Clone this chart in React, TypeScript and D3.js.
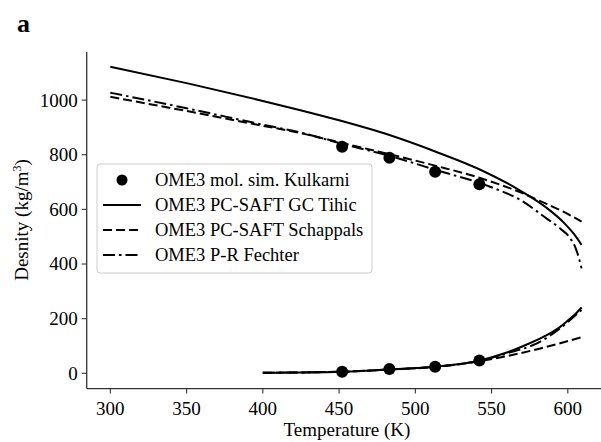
import React from "react";
import * as d3 from "d3";

// Temperature grid (K) and densities (kg/m³) for each model branch
const tihicLiqT = [300, 350, 400, 424, 450, 483, 513, 543, 569, 586, 598, 604, 609];
const tihicLiqRho = [1122, 1062, 997, 964, 926, 872, 812, 744, 668, 606, 548, 510, 470];
const tihicVapT = [400, 425, 453, 483, 513, 543, 560, 575, 582, 590, 595, 600, 605, 609];
const tihicVapRho = [2, 3, 6, 14, 24, 48, 76, 110, 128, 152, 170, 193, 217, 241];

const schappalsLiqT = [300, 350, 400, 424, 452, 483, 513, 543, 569, 586, 598, 609];
const schappalsLiqRho = [1012, 960, 906, 880, 843, 802, 760, 714, 662, 620, 589, 555];
const schappalsVapT = [400, 453, 483, 513, 543, 560, 582, 595, 609];
const schappalsVapRho = [2, 6, 14, 23, 45, 63, 91, 110, 132];

const fechterLiqT = [300, 350, 400, 424, 452, 483, 513, 549, 569, 586, 595, 601.6, 605, 607, 609];
const fechterLiqRho = [1027, 970, 910, 882, 840, 796, 745, 683, 634, 567, 530, 494, 460, 427, 384];
const fechterVapT = [400, 453, 483, 513, 543, 560, 582, 595, 609];
const fechterVapRho = [2, 6, 14, 24, 47, 73, 116, 165, 232];

// Molecular simulation points (liquid and vapour)
const kulkarniT = [452, 483, 513, 542];
const kulkarniLiq = [829, 789, 738, 692];
const kulkarniVap = [6, 16, 24, 47];

const xTicks = [300, 350, 400, 450, 500, 550, 600];
const yTicks = [0, 200, 400, 600, 800, 1000];

const legendLabels = [
  "OME3 mol. sim. Kulkarni",
  "OME3 PC-SAFT GC Tihic",
  "OME3 PC-SAFT Schappals",
  "OME3 P-R Fechter",
];

const W = 601;
const H = 442;
const FONT = "'Liberation Serif', 'Times New Roman', serif";

const x = d3.scaleLinear().domain([284.5, 625.5]).range([86.7, 606.7]);
const y = d3.scaleLinear().domain([-56, 1176]).range([388.6, 52]);

const line = d3
  .line<[number, number]>()
  .x((d) => x(d[0]))
  .y((d) => y(d[1]))
  .curve(d3.curveMonotoneX);

const zip = (a: number[], b: number[]) => a.map((t, i) => [t, b[i]] as [number, number]);

const DASH = "9 4";
const DASHDOT = "12 4 2.5 4";
const LW = 2;

const series = [
  { T: tihicLiqT, R: tihicLiqRho, dash: undefined },
  { T: tihicVapT, R: tihicVapRho, dash: undefined },
  { T: schappalsLiqT, R: schappalsLiqRho, dash: DASH },
  { T: schappalsVapT, R: schappalsVapRho, dash: DASH },
  { T: fechterLiqT, R: fechterLiqRho, dash: DASHDOT },
  { T: fechterVapT, R: fechterVapRho, dash: DASHDOT },
];

export default function App() {
  const axisColor = "#333";
  const legX = 97;
  const legY = 164;
  const legW = 275;
  const legH = 109;
  const rowH = 25;
  return (
    <svg
      width={W}
      height={H}
      style={{ position: "absolute", left: 0, top: 0, background: "#fff" }}
      fontFamily={FONT}
    >
      <rect x={0} y={0} width={W} height={H} fill="#fff" />
      <text x={17} y={32} fontSize={26} fontWeight="bold" fill="#000">
        a
      </text>

      {/* curves */}
      {series.map((s, i) => (
        <path
          key={i}
          d={line(zip(s.T, s.R)) || ""}
          fill="none"
          stroke="#000"
          strokeWidth={LW}
          strokeDasharray={s.dash}
        />
      ))}

      {/* simulation points */}
      {kulkarniT.map((t, i) => (
        <g key={i}>
          <circle cx={x(t)} cy={y(kulkarniLiq[i])} r={6} fill="#000" />
          <circle cx={x(t)} cy={y(kulkarniVap[i])} r={6} fill="#000" />
        </g>
      ))}

      {/* axes */}
      <line x1={x.range()[0]} x2={x.range()[0]} y1={y.range()[1]} y2={y.range()[0]} stroke={axisColor} strokeWidth={1.3} />
      <line x1={x.range()[0]} x2={x.range()[1]} y1={y.range()[0]} y2={y.range()[0]} stroke={axisColor} strokeWidth={1.3} />
      {xTicks.map((t) => (
        <g key={t}>
          <line x1={x(t)} x2={x(t)} y1={y.range()[0]} y2={y.range()[0] + 5} stroke={axisColor} strokeWidth={1.1} />
          <text x={x(t)} y={415} fontSize={19} textAnchor="middle" fill="#000">
            {t}
          </text>
        </g>
      ))}
      {yTicks.map((v) => (
        <g key={v}>
          <line x1={x.range()[0] - 5} x2={x.range()[0]} y1={y(v)} y2={y(v)} stroke={axisColor} strokeWidth={1.1} />
          <text x={x.range()[0] - 9} y={y(v)} dy="0.34em" fontSize={19} textAnchor="end" fill="#000">
            {v}
          </text>
        </g>
      ))}
      <text x={347} y={436} fontSize={19} textAnchor="middle" fill="#000">
        Temperature (K)
      </text>
      <text transform="translate(28,220) rotate(-90)" fontSize={19} textAnchor="middle" fill="#000">
        Desnity (kg/m
        <tspan dy={-7} fontSize={12}>
          3
        </tspan>
        <tspan dy={7}>)</tspan>
      </text>

      {/* legend */}
      <rect x={legX} y={legY} width={legW} height={legH} rx={3} fill="#fff" fillOpacity={0.85} stroke="#ccc" strokeWidth={1} />
      {legendLabels.map((lab, i) => {
        const cy = legY + 16 + i * rowH;
        return (
          <g key={lab}>
            {i === 0 ? (
              <circle cx={122} cy={cy} r={5.5} fill="#000" />
            ) : (
              <line
                x1={103}
                x2={141}
                y1={cy}
                y2={cy}
                stroke="#000"
                strokeWidth={LW}
                strokeDasharray={i === 2 ? DASH : i === 3 ? DASHDOT : undefined}
              />
            )}
            <text x={155} y={cy} dy="0.34em" fontSize={18.5} fill="#000">
              {lab}
            </text>
          </g>
        );
      })}
    </svg>
  );
}
